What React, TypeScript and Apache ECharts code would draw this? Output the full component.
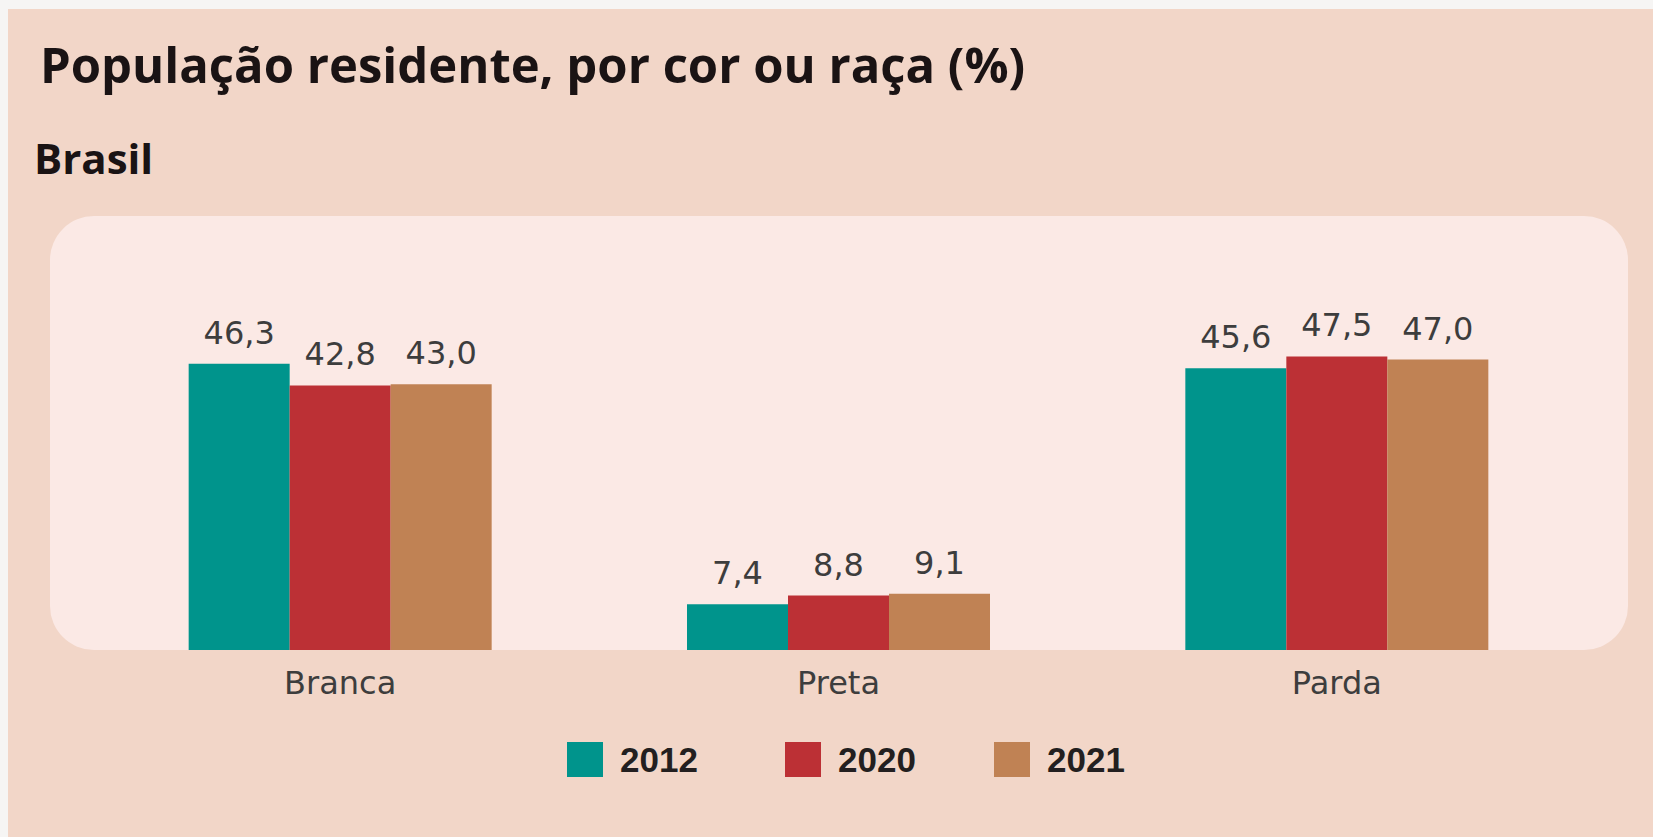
import React, { useEffect, useRef } from "react";
import * as echarts from "echarts";

const categories = ["Branca", "Preta", "Parda"];
const years = ["2012", "2020", "2021"];
const values2012 = [46.3, 7.4, 45.6];
const values2020 = [42.8, 8.8, 47.5];
const values2021 = [43.0, 9.1, 47.0];
const seriesColors = ["#00948c", "#bc3035", "#c08254"];
const titleText = "População residente, por cor ou raça (%)";
const subtitleText = "Brasil";

export default function App() {
  const ref = useRef<HTMLDivElement>(null);
  useEffect(() => {
    if (!ref.current) return;
    const chart = echarts.init(ref.current, undefined, { renderer: "svg" });
    const seriesValues = [values2012, values2020, values2021];
    const legendLefts = [567, 785, 994];
    const labelFont = "DejaVu Sans";
    chart.setOption({
      animation: false,
      backgroundColor: "#f6f5f4",
      graphic: [
        {
          type: "rect",
          z: -10,
          shape: { x: 8, y: 9, width: 1653, height: 837 },
          style: { fill: "#f2d6c8" },
        },
        {
          type: "rect",
          z: -9,
          shape: { x: 50, y: 216, width: 1578, height: 434, r: 44 },
          style: { fill: "#fbe9e5" },
        },
        {
          type: "text",
          x: 40,
          y: 64,
          style: {
            text: titleText,
            font: "bold 49px 'Open Sans'",
            fill: "#1a1314",
            textVerticalAlign: "middle",
          },
        },
        {
          type: "text",
          x: 34,
          y: 157,
          style: {
            text: subtitleText,
            font: "bold 42px 'Open Sans'",
            fill: "#1a1314",
            textVerticalAlign: "middle",
          },
        },
      ],
      legend: years.map((y, i) => ({
        data: [y],
        left: legendLefts[i],
        top: 742,
        padding: 0,
        itemWidth: 36,
        itemHeight: 35,
        icon: "rect",
        selectedMode: false,
        textStyle: {
          fontFamily: "Liberation Sans",
          fontWeight: "bold",
          fontSize: 35,
          color: "#231f20",
          padding: [0, 0, 0, 12],
        },
      })),
      grid: { left: 91, right: 67, top: 279.2, bottom: 187, containLabel: false },
      xAxis: {
        type: "category",
        data: categories,
        axisLine: { show: false },
        axisTick: { show: false },
        axisLabel: {
          margin: 17,
          fontFamily: labelFont,
          fontSize: 32,
          color: "#3d3d3d",
        },
      },
      yAxis: {
        type: "value",
        min: 0,
        max: 60,
        show: false,
        splitLine: { show: false },
      },
      series: years.map((y, i) => ({
        name: y,
        type: "bar",
        data: seriesValues[i],
        barWidth: 101,
        barGap: "0%",
        itemStyle: { color: seriesColors[i] },
        label: {
          show: true,
          position: "top",
          distance: 15,
          fontFamily: labelFont,
          fontSize: 32,
          color: "#3d3d3d",
          formatter: (p: any) => Number(p.value).toFixed(1).replace(".", ","),
        },
      })),
    });
    return () => chart.dispose();
  }, []);
  return (
    <div
      ref={ref}
      style={{ position: "absolute", left: 0, top: 0, width: 1653, height: 837 }}
    />
  );
}
